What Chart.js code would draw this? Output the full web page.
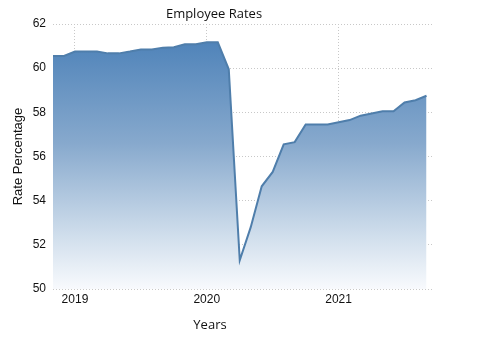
<!DOCTYPE html>
<html>
<head>
<meta charset="utf-8">
<style>
  html, body { margin: 0; padding: 0; background: #fff; }
  #wrap { width: 481px; height: 360px; position: relative; }
</style>
<script src="https://cdn.jsdelivr.net/npm/chart.js@4.4.1/dist/chart.umd.min.js"></script>
</head>
<body>
<div id="wrap"><canvas id="chart" width="481" height="360"></canvas></div>
<script>
// months from Nov 2018 to Sep 2021 (index 0 = Nov 2018)
const months = ['2018-11','2018-12',
  '2019-01','2019-02','2019-03','2019-04','2019-05','2019-06','2019-07','2019-08','2019-09','2019-10','2019-11','2019-12',
  '2020-01','2020-02','2020-03','2020-04','2020-05','2020-06','2020-07','2020-08','2020-09','2020-10','2020-11','2020-12',
  '2021-01','2021-02','2021-03','2021-04','2021-05','2021-06','2021-07','2021-08','2021-09'];
const rates = [60.55, 60.55,
  60.75, 60.75, 60.75, 60.67, 60.67, 60.75, 60.85, 60.85, 60.93, 60.95, 61.08, 61.08,
  61.17, 61.17, 59.95, 51.3, 52.8, 54.65, 55.3, 56.55, 56.65, 57.45, 57.45, 57.45,
  57.55, 57.65, 57.85, 57.95, 58.05, 58.05, 58.45, 58.55, 58.75];
const yearTicks = [2019, 2020, 2021];
const yTicks = [50, 52, 54, 56, 58, 60, 62];

const firstYear = 2018, firstMonth = 11;
const toIndex = (y, m) => (y - firstYear) * 12 + (m - firstMonth);
const points = months.map((m, i) => {
  const [y, mo] = m.split('-').map(Number);
  return { x: toIndex(y, mo), y: rates[i] };
});
const yearIdx = yearTicks.map(y => toIndex(y, 1));

const font = "'Liberation Sans', Arial, sans-serif";
const titleFont = "'Open Sans', 'Noto Sans', sans-serif";

const textPlugin = {
  id: 'texts',
  afterDraw(chart) {
    const c = chart.ctx;
    c.save();
    c.fillStyle = '#111';
    c.textAlign = 'center';
    c.textBaseline = 'middle';
    c.font = '13px ' + titleFont;
    c.fillText('Employee Rates', 214, 14);
    c.fillText('Years', 210, 325);
    c.restore();
  }
};

const ctx = document.getElementById('chart');
new Chart(ctx, {
  type: 'line',
  data: {
    datasets: [{
      data: points,
      borderColor: '#4f7eab',
      borderWidth: 2,
      pointRadius: 0,
      tension: 0,
      fill: 'start',
      backgroundColor: (context) => {
        const area = context.chart.chartArea;
        if (!area) return 'rgba(74,128,182,0.8)';
        const g = context.chart.ctx.createLinearGradient(0, area.top, 0, area.bottom);
        g.addColorStop(0, '#467db6');
        g.addColorStop(0.45, '#87a9cd');
        g.addColorStop(0.8, '#d0deec');
        g.addColorStop(1, '#f8fafd');
        return g;
      }
    }]
  },
  options: {
    responsive: false,
    animation: false,
    layout: { padding: { top: 24, right: 49, left: 0, bottom: 0 } },
    plugins: {
      legend: { display: false },
      tooltip: { enabled: false }
    },
    scales: {
      x: {
        type: 'linear',
        min: 0,
        max: 34.5,
        afterBuildTicks: (s) => { s.ticks = yearIdx.map(v => ({ value: v })); },
        afterFit: (s) => { s.height = 71; },
        ticks: {
          color: '#111',
          font: { family: font, size: 12 },
          padding: 3,
          maxRotation: 0,
          callback: (v) => String(firstYear + Math.floor((v + firstMonth - 1) / 12))
        },
        grid: {
          color: '#c8c8c8',
          lineWidth: 1,
          drawTicks: false
        },
        border: { display: false, dash: [1, 2] }
      },
      y: {
        min: 50,
        max: 62,
        afterBuildTicks: (s) => { s.ticks = yTicks.map(v => ({ value: v })); },
        afterFit: (s) => { s.width = 53; },
        ticks: {
          color: '#111',
          font: { family: font, size: 12 },
          padding: 7
        },
        grid: {
          color: '#c8c8c8',
          lineWidth: 1,
          drawTicks: false
        },
        border: { display: false, dash: [1, 2] },
        title: {
          display: true,
          text: 'Rate Percentage',
          color: '#111',
          font: { family: font, size: 13 },
          padding: { top: 11, bottom: 0 }
        }
      }
    }
  },
  plugins: [textPlugin]
});
</script>
</body>
</html>
